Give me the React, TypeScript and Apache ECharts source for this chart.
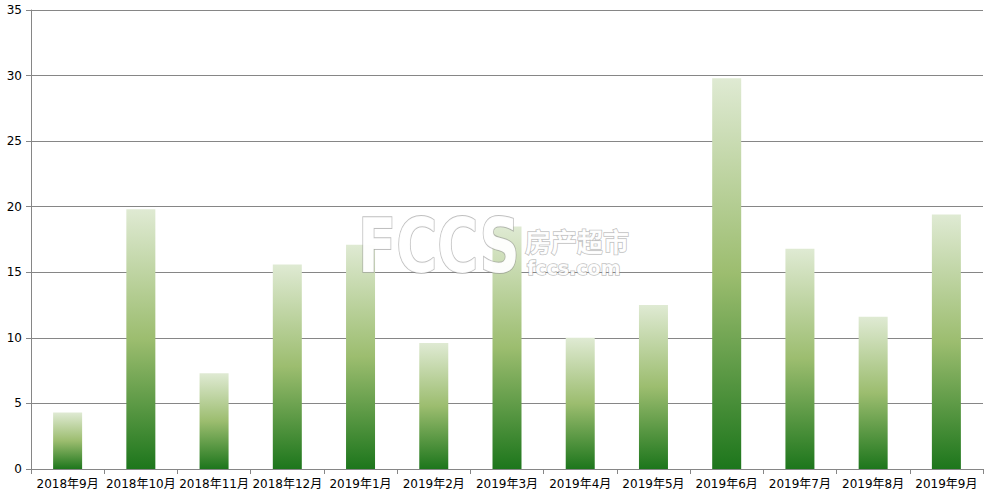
import React, { useEffect, useRef } from "react";
import * as echarts from "echarts";

const categories = [
  "2018年9月", "2018年10月", "2018年11月", "2018年12月", "2019年1月", "2019年2月", "2019年3月",
  "2019年4月", "2019年5月", "2019年6月", "2019年7月", "2019年8月", "2019年9月",
];
const values = [4.3, 19.8, 7.3, 15.6, 17.1, 9.6, 18.5, 10.0, 12.5, 29.8, 16.8, 11.6, 19.4];
const yTicks = { min: 0, max: 35, interval: 5 };

const FONT = "'DejaVu Sans', 'Noto Sans CJK SC', sans-serif";

export default function App() {
  const ref = useRef<HTMLDivElement>(null);
  useEffect(() => {
    if (!ref.current) return;
    const chart = echarts.init(ref.current, null, { renderer: "svg" });
    const wmStyle = {
      fill: "rgba(255,255,255,0.95)",
      stroke: "rgba(140,140,140,0.55)",
      lineWidth: 1.5,
    };
    chart.setOption({
      animation: false,
      backgroundColor: "#ffffff",
      grid: { left: 31, right: 9, top: 10, bottom: 29, containLabel: false },
      xAxis: {
        type: "category",
        data: categories,
        axisLine: { lineStyle: { color: "#868686", width: 1 } },
        axisTick: { show: true, length: 5, lineStyle: { color: "#868686" } },
        axisLabel: { color: "#000000", fontSize: 12, fontFamily: FONT, margin: 9, interval: 0 },
      },
      yAxis: {
        type: "value",
        min: yTicks.min,
        max: yTicks.max,
        interval: yTicks.interval,
        axisLine: { show: true, lineStyle: { color: "#868686", width: 1 } },
        axisTick: { show: true, length: 5, lineStyle: { color: "#868686" } },
        axisLabel: { color: "#000000", fontSize: 12, fontFamily: FONT, margin: 9 },
        splitLine: { show: true, lineStyle: { color: "#868686", width: 1 } },
      },
      series: [
        {
          type: "bar",
          data: values,
          barWidth: 29,
          itemStyle: {
            color: new echarts.graphic.LinearGradient(0, 1, 0, 0, [
              { offset: 0, color: "#1d761c" },
              { offset: 0.5, color: "#9cbd6f" },
              { offset: 1, color: "#dfead3" },
            ]),
          },
        },
      ],
      graphic: [
        {
          type: "text",
          x: 358,
          y: 208,
          scaleY: 1.35,
          z: 100,
          style: {
            ...wmStyle,
            text: "FCCS",
            fontSize: 56,
            fontWeight: "bold",
            fontFamily: "DejaVu Sans",
          },
        },
        {
          type: "text",
          x: 525,
          y: 226,
          z: 100,
          style: {
            ...wmStyle,
            text: "房产超市",
            fontSize: 26,
            lineHeight: 28,
            fontWeight: "bold",
            fontFamily: "Noto Sans CJK SC",
          },
        },
        {
          type: "text",
          x: 527,
          y: 257,
          z: 100,
          style: {
            ...wmStyle,
            text: "fccs.com",
            fontSize: 19,
            lineHeight: 21,
            fontWeight: "bold",
            fontFamily: "DejaVu Sans",
          },
        },
      ],
    });
    return () => chart.dispose();
  }, []);
  return <div ref={ref} style={{ width: 992, height: 498, position: "absolute", left: 0, top: 0 }} />;
}
